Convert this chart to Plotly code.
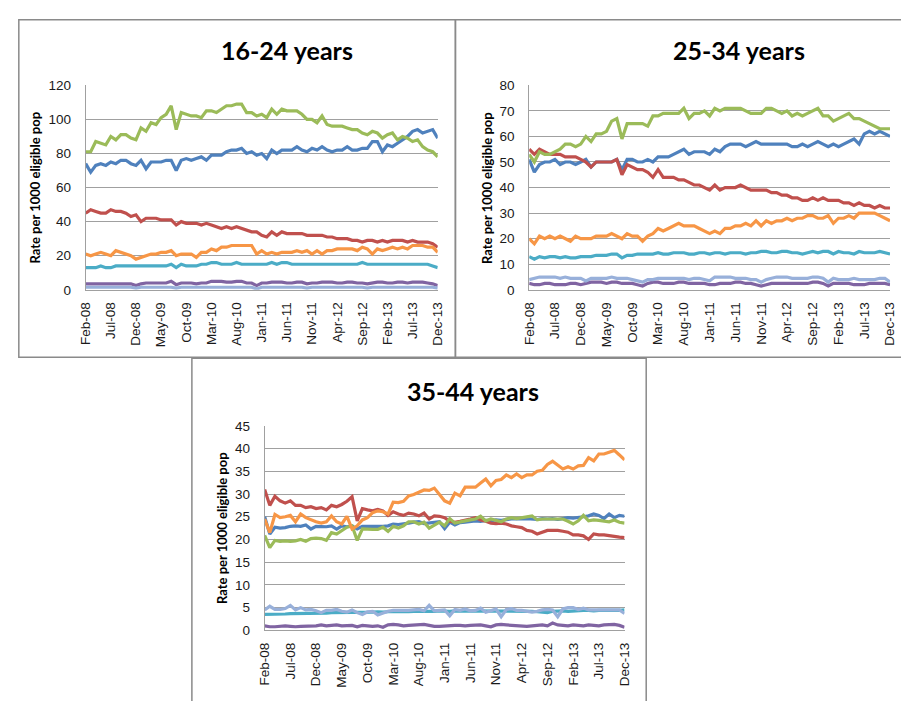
import plotly.graph_objects as go

W, H = 901, 701

months = ["Feb-08", "Mar-08", "Apr-08", "May-08", "Jun-08", "Jul-08", "Aug-08", "Sep-08", "Oct-08", "Nov-08",
          "Dec-08", "Jan-09", "Feb-09", "Mar-09", "Apr-09", "May-09", "Jun-09", "Jul-09", "Aug-09", "Sep-09",
          "Oct-09", "Nov-09", "Dec-09", "Jan-10", "Feb-10", "Mar-10", "Apr-10", "May-10", "Jun-10", "Jul-10",
          "Aug-10", "Sep-10", "Oct-10", "Nov-10", "Dec-10", "Jan-11", "Feb-11", "Mar-11", "Apr-11", "May-11",
          "Jun-11", "Jul-11", "Aug-11", "Sep-11", "Oct-11", "Nov-11", "Dec-11", "Jan-12", "Feb-12", "Mar-12",
          "Apr-12", "May-12", "Jun-12", "Jul-12", "Aug-12", "Sep-12", "Oct-12", "Nov-12", "Dec-12", "Jan-13",
          "Feb-13", "Mar-13", "Apr-13", "May-13", "Jun-13", "Jul-13", "Aug-13", "Sep-13", "Oct-13", "Nov-13",
          "Dec-13"]
tick_every = 5

# ---- 16-24 years ----
p1_blue = [74, 69, 73, 74, 73, 75, 74, 76, 76, 74,
           73, 76, 71, 75, 75, 75, 76, 76, 70, 76,
           77, 76, 77, 78, 76, 79, 79, 79, 81, 82,
           82, 83, 80, 81, 79, 80, 77, 82, 80, 82,
           82, 82, 84, 82, 81, 83, 82, 84, 82, 81,
           82, 82, 84, 82, 82, 83, 83, 87, 87, 81,
           85, 84, 86, 88, 90, 93, 94, 92, 93, 94,
           89]
p1_red = [45, 47, 46, 45, 45, 47, 46, 46, 45, 43,
          44, 40, 42, 42, 42, 41, 41, 41, 38, 40,
          39, 39, 39, 38, 39, 38, 37, 36, 37, 36,
          37, 36, 35, 34, 34, 32, 31, 34, 32, 34,
          33, 33, 33, 33, 32, 32, 32, 32, 31, 31,
          30, 30, 30, 29, 29, 28, 29, 29, 28, 29,
          28, 29, 29, 29, 28, 29, 28, 28, 28, 27,
          25]
p1_green = [81, 81, 87, 86, 85, 90, 88, 91, 91, 89,
            88, 95, 93, 98, 97, 101, 103, 108, 94, 104,
            103, 102, 102, 101, 105, 105, 104, 106, 108, 108,
            109, 109, 104, 104, 102, 103, 101, 106, 103, 106,
            105, 105, 105, 103, 100, 100, 98, 102, 97, 96,
            96, 96, 95, 94, 94, 92, 91, 93, 92, 89,
            91, 92, 88, 90, 89, 87, 88, 84, 82, 81,
            78]
p1_purple = [3.5, 3.5, 3.5, 3.5, 3.5, 3.5, 3.5, 3.5, 3.5, 3.5,
             2.5, 3.5, 4, 4, 4, 4, 4, 5, 3, 4,
             4, 4, 3.5, 4, 4, 5, 5, 5, 4.5, 4.5,
             5, 5, 4, 4, 2.5, 4, 4, 4.5, 4.5, 4.5,
             4, 4, 4.5, 4.5, 3.5, 4, 4, 4.5, 4.5, 4.5,
             4, 4, 4.5, 4.5, 4, 4, 3.5, 4, 4.5, 4.5,
             4, 4, 4.5, 4.5, 4, 4.5, 4.5, 4.5, 4, 3.5,
             2.5]
p1_teal = [13, 13, 13, 14, 13, 13, 14, 14, 14, 14,
           14, 14, 14, 14, 14, 14, 14, 15, 13, 15,
           14, 14, 14, 15, 15, 16, 16, 15, 15, 15,
           16, 15, 15, 15, 15, 15, 15, 16, 15, 16,
           16, 15, 15, 15, 15, 15, 15, 15, 15, 15,
           15, 15, 15, 15, 15, 16, 15, 15, 15, 15,
           15, 15, 15, 15, 15, 15, 15, 15, 15, 14,
           13]
p1_orange = [21, 20, 21, 22, 21, 20, 23, 22, 21, 20,
             18, 19, 20, 21, 21, 22, 22, 23, 20, 21,
             21, 21, 19, 22, 22, 24, 23, 25, 25, 26,
             26, 26, 26, 26, 21, 23, 21, 22, 21, 22,
             22, 22, 23, 22, 23, 21, 23, 21, 23, 23,
             24, 24, 24, 24, 23, 25, 24, 21, 24, 23,
             24, 25, 24, 25, 24, 26, 26, 26, 25, 25,
             22]
p1_light = [1.5, 1.5, 1.5, 1.5, 1.5, 1.5, 1.5, 1.5, 1.5, 1.5,
            1, 1.5, 1.5, 1.5, 1.5, 1.5, 1.5, 1.5, 1, 1.5,
            1.5, 1.5, 1.5, 1.5, 1.5, 1.5, 1.5, 1.5, 1.5, 1.5,
            1.5, 1.5, 1.5, 1.5, 0.5, 1.5, 1.5, 1.5, 1.5, 1.5,
            1.5, 1.5, 1.5, 1.5, 1, 1.5, 1.5, 1.5, 1.5, 1.5,
            1.5, 1.5, 1.5, 1.5, 1.5, 1.5, 1, 1.5, 1.5, 1.5,
            1.5, 1.5, 1.5, 1.5, 1.5, 1.5, 1.5, 1.5, 1.5, 1.5,
            1]

# ---- 25-34 years ----
p2_blue = [51, 46, 49, 50, 50, 51, 49, 50, 50, 49,
           50, 51, 48, 50, 50, 50, 50, 51, 47, 51,
           51, 50, 50, 51, 50, 52, 52, 52, 53, 54,
           55, 53, 54, 54, 54, 53, 55, 54, 56, 57,
           57, 57, 56, 57, 58, 57, 57, 57, 57, 57,
           57, 56, 56, 57, 56, 57, 58, 57, 56, 57,
           56, 57, 58, 59, 57, 61, 62, 61, 62, 61,
           60]
p2_red = [55, 53, 55, 54, 53, 53, 53, 52, 52, 52,
          51, 50, 48, 50, 50, 50, 50, 51, 45, 49,
          48, 47, 47, 46, 44, 47, 44, 44, 44, 43,
          43, 42, 41, 41, 40, 39, 41, 39, 40, 40,
          40, 41, 40, 39, 39, 39, 39, 38, 38, 37,
          37, 36, 36, 35, 35, 36, 35, 36, 35, 35,
          35, 34, 34, 33, 34, 33, 33, 32, 33, 32,
          32]
p2_green = [53, 50, 54, 53, 53, 54, 55, 57, 57, 56,
            57, 60, 58, 61, 61, 62, 66, 67, 59, 65,
            65, 65, 65, 64, 68, 68, 69, 69, 69, 69,
            71, 67, 69, 69, 70, 68, 71, 70, 71, 71,
            71, 71, 70, 69, 69, 69, 71, 71, 70, 69,
            70, 68, 69, 68, 69, 70, 71, 68, 68, 66,
            67, 68, 69, 67, 67, 66, 65, 64, 63, 63,
            63]
p2_purple = [2.5, 2, 2, 2.5, 2.5, 2, 2, 2, 2.5, 2.5,
             2, 2.5, 3, 3, 3, 2.5, 3, 3, 2.5, 2.5,
             2.5, 2, 1.5, 2.5, 3, 3, 2.5, 2.5, 2.5, 3,
             3, 2.5, 2.5, 2.5, 2.5, 2, 2, 2.5, 2.5, 2.5,
             3, 3, 2.5, 2.5, 2, 1.5, 2, 2.5, 2.5, 2.5,
             2.5, 2.5, 2.5, 2.5, 2.5, 3, 3, 2.5, 1.5, 2.5,
             2.5, 2.5, 2.5, 2, 2, 2, 2.5, 2.5, 2.5, 2.5,
             2]
p2_teal = [13, 12, 13, 12.5, 13, 13, 12.5, 13, 12.5, 12.5,
           13, 13, 13, 13.5, 13.5, 13.5, 14, 14, 12.5, 13.5,
           13.5, 14, 14, 14, 14, 14.5, 14, 14, 14.5, 14.5,
           14.5, 14, 14, 14.5, 14.5, 14, 14.5, 14.5, 14, 14.5,
           14.5, 14.5, 14, 14.5, 14.5, 15, 15, 14.5, 14.5, 15,
           15, 14.5, 14.5, 14, 14.5, 15, 14.5, 15, 15, 14,
           15, 14.5, 14.5, 14, 15, 14.5, 14.5, 14.5, 15, 14.5,
           14]
p2_orange = [20, 18, 21, 20, 21, 20, 21, 20, 19, 21,
             20, 20, 20, 21, 21, 21, 22, 21, 20, 22,
             21, 21, 19, 21, 22, 24, 23, 24, 25, 26,
             25, 25, 25, 24, 23, 22, 23, 22, 24, 24,
             25, 25, 26, 25, 27, 25, 27, 26, 27, 27,
             28, 27, 28, 28, 29, 29, 28, 28, 29, 26,
             28, 28, 29, 28, 30, 30, 30, 30, 29, 28,
             27]
p2_light = [4, 4.5, 5, 5, 5, 5, 4.5, 5, 4.5, 4.5,
            4.5, 3.5, 4.5, 4.5, 4.5, 4.5, 5, 4.5, 4.5, 4.5,
            4, 3.5, 3, 4, 4, 4.5, 4.5, 4.5, 4.5, 4.5,
            4.5, 4, 4.5, 4.5, 4, 3.5, 5, 5, 5, 5,
            4.5, 4.5, 4.5, 4, 4, 3, 4, 4.5, 5, 5,
            5, 4.5, 4.5, 4.5, 4.5, 5, 5, 4.5, 3, 4.5,
            4, 4, 4, 4.5, 4, 4, 4, 4, 4.5, 4.5,
            3]

# ---- 35-44 years ----
p3_blue = [25, 21.2, 22.7, 22.5, 22.6, 22.9, 23, 22.9, 23.2, 22.3,
           22.9, 22.8, 22.8, 23, 22.3, 23, 22.8, 23, 22.3, 22.9,
           22.9, 22.8, 22.9, 22.9, 23, 23.4, 23.3, 23.4, 23.6, 23.8,
           23.9, 23.5, 23.6, 23.8, 23.9, 22.4, 23.8, 23.2, 23.7, 23.8,
           24, 24.1, 24, 24.2, 24.1, 24.3, 24.2, 24.4, 24.5, 24.6,
           24.5, 24.6, 24.5, 24.4, 24.6, 24.5, 24.6, 24.4, 24.6, 24.8,
           24.7, 24.8, 25, 25.2, 25.6, 25.3, 24.6, 25.6, 24.8, 25.3,
           25.1]
p3_red = [31, 27.5, 29.5, 28.5, 28, 28.5, 27.5, 27.5, 27, 27.2,
          26.8, 27, 26.5, 27.5, 27.2, 27.7, 28.4, 29.4, 24.1, 26.8,
          26.5, 26.3, 26.6, 26.3, 25.3, 26.1, 25.6, 25.3, 25.8, 25.6,
          25.2, 25.8, 24.5, 25.2, 25.1, 24.8, 24, 23.8, 24, 24.2,
          24.5, 24.8, 24.3, 24, 23.6, 23.5, 23.6, 23.4, 23, 22.8,
          22.6, 22, 21.8, 21.2, 21.6, 22, 22, 22, 21.8, 21.6,
          21, 21, 20.8, 20, 21.2, 21, 21, 20.8, 20.6, 20.5,
          20.4]
p3_green = [20.9, 18.2, 19.8, 19.6, 19.7, 19.6, 19.7, 20, 19.6, 20.2,
            20.3, 20.2, 19.8, 21.5, 21.2, 22, 22.7, 23, 19.8, 22.3,
            22.2, 22.2, 22.2, 22.7, 21.8, 22.9, 22.5, 23, 23.9, 23.9,
            23.4, 23.8, 22.5, 23.2, 23.8, 23, 24.6, 23.6, 23.9, 24.1,
            24.3, 24.5, 25.1, 24.1, 24.5, 24.2, 23.9, 24.5, 24.8, 24.6,
            24.8, 25.1, 25.2, 24.3, 24.5, 24.5, 24.5, 24.5, 24.5, 24,
            23.4, 24.1, 25.3, 24.1, 24.3, 24.2, 24.1, 23.9, 24.3, 23.8,
            23.6]
p3_purple = [1.0, 0.8, 0.8, 0.9, 1.0, 0.9, 0.8, 0.9, 0.9, 0.9,
             1.0, 1.2, 1.0, 1.1, 1.2, 1.0, 1.0, 1.1, 0.8, 1.1,
             1.0, 0.9, 1.0, 0.7, 1.2, 1.3, 1.2, 1.0, 1.1, 1.2,
             1.2, 1.3, 1.1, 0.9, 0.9, 1.0, 1.0, 1.1, 1.1, 1.0,
             1.1, 1.1, 1.2, 1.0, 0.8, 1.2, 1.3, 1.2, 1.1, 1.1,
             1.0, 0.9, 1.0, 1.1, 1.2, 1.0, 1.6, 1.2, 1.1, 1.0,
             1.2, 1.1, 1.0, 1.2, 1.1, 1.0, 1.2, 1.3, 1.3, 1.1,
             0.7]
p3_teal = [3.5, 3.5, 3.6, 3.6, 3.6, 3.7, 3.7, 3.7, 3.7, 3.8,
           3.8, 3.8, 3.8, 3.9, 3.9, 3.9, 4.0, 4.0, 4.0, 4.0,
           4.0, 4.0, 4.1, 4.0, 4.1, 4.1, 4.0, 4.1, 4.1, 4.2,
           4.2, 4.1, 4.2, 4.2, 4.3, 4.2, 4.2, 4.3, 4.3, 4.2,
           4.2, 4.3, 4.2, 4.3, 4.3, 4.2, 4.3, 4.3, 4.2, 4.3,
           4.3, 4.2, 4.2, 4.1, 4.0, 3.9, 4.2, 4.3, 4.3, 4.2,
           4.3, 4.3, 4.4, 4.4, 4.3, 4.4, 4.4, 4.4, 4.3, 4.4,
           4.5]
p3_orange = [24.5, 21.5, 25.5, 24.8, 25, 25.3, 23.9, 25.6, 24.8, 24.3,
             23.9, 23.6, 23.9, 25.2, 23.9, 23.4, 25.1, 22.3, 23, 24.3,
             24.8, 25.9, 26.3, 26.1, 25.6, 28.2, 28.1, 28.4, 29.6, 29.9,
             30.4, 30.9, 30.8, 31.3, 29.9, 28.5, 28, 30.2, 29.6, 31.5,
             31.5, 31.5, 32.4, 33.3, 31.8, 33, 33.2, 34.2, 33.6, 34.4,
             33.6, 34.2, 34.2, 35, 35.2, 36.5, 37.2, 36.4, 35.5, 36,
             35.5, 36.2, 36.3, 38, 37.3, 38.8, 38.8, 39.2, 39.6, 38.6,
             37.5]
p3_light = [4.5, 5.3, 4.6, 4.6, 4.8, 5.5, 4.5, 5.0, 4.5, 4.6,
            4.3, 3.9, 4.4, 4.4, 4.6, 4.2, 4.0, 4.5, 3.9, 3.5,
            4.1, 4.2, 3.4, 3.8, 4.2, 4.4, 4.4, 4.3, 4.4, 4.5,
            4.6, 4.3, 5.5, 4.3, 4.4, 4.5, 3.2, 4.6, 4.4, 4.7,
            4.3, 4.4, 4.9, 4.0, 4.3, 4.7, 3.0, 4.6, 4.8, 4.4,
            4.4, 4.2, 4.0, 4.2, 4.5, 4.6, 4.5, 3.0, 4.7, 5.0,
            5.0, 4.6, 4.9, 4.5, 4.5, 4.5, 4.4, 4.4, 4.5, 4.5,
            3.7]

colors = ["#4F81BD", "#C0504D", "#9BBB59", "#8064A2", "#4BACC6", "#F79646", "#98B0DA"]

panels = [
    dict(title="16-24 years", series=[p1_blue, p1_red, p1_green, p1_purple, p1_teal, p1_orange, p1_light],
         ymax=120, dtick=20, plot=(79, 437, 80, 289), title_xy=(284, 44), ylab_xy=(28, 185),
         box=(11, 455, 13, 358)),
    dict(title="25-34 years", series=[p2_blue, p2_red, p2_green, p2_purple, p2_teal, p2_orange, p2_light],
         ymax=80, dtick=10, plot=(530, 897, 80, 289), title_xy=(743, 44), ylab_xy=(487, 185),
         box=(455, 910, 13, 358)),
    dict(title="35-44 years", series=[p3_blue, p3_red, p3_green, p3_purple, p3_teal, p3_orange, p3_light],
         ymax=45, dtick=5, plot=(261, 627, 428, 637), title_xy=(473, 392), ylab_xy=(217, 532),
         box=(187, 649, 359, 720)),
]


def px(x):
    return x / W


def py(y):
    return 1 - y / H


x_idx = list(range(len(months)))
tick_vals = x_idx[::tick_every]
tick_text = months[::tick_every]

fig = go.Figure()
layout = dict(
    width=W, height=H, margin=dict(l=0, r=0, t=0, b=0),
    paper_bgcolor="white", plot_bgcolor="white", showlegend=False,
    annotations=[], shapes=[],
)

grid = "#A0A0A0"
tick_font = dict(family="Liberation Sans, Arial, sans-serif", size=13.5, color="#1a1a1a")
head_font = "Lato, Open Sans, sans-serif"

for k, p in enumerate(panels, start=1):
    sfx = "" if k == 1 else str(k)
    x0, x1, y0, y1 = p["plot"]
    for s, c in zip(p["series"], colors):
        assert len(s) == len(months)
        fig.add_trace(go.Scatter(
            x=x_idx, y=s, mode="lines", line=dict(color=c, width=3.2),
            xaxis="x" + sfx, yaxis="y" + sfx, hoverinfo="skip"))
    layout["xaxis" + sfx] = dict(
        domain=[px(x0), px(x1)], anchor="y" + sfx, range=[0, len(months) - 1],
        tickmode="array", tickvals=tick_vals, ticktext=tick_text, tickangle=-90,
        showgrid=False, zeroline=False, showline=True, linecolor=grid, linewidth=1,
        ticks="", ticklabelstandoff=6, tickfont=tick_font, fixedrange=True)
    layout["yaxis" + sfx] = dict(
        domain=[py(y1), py(y0)], anchor="x" + sfx, range=[0, p["ymax"]],
        tickmode="linear", tick0=0, dtick=p["dtick"],
        showgrid=True, gridcolor=grid, gridwidth=1, zeroline=False,
        showline=True, linecolor=grid, linewidth=1,
        ticks="", ticklabelstandoff=11, tickfont=tick_font, fixedrange=True)
    tx, ty = p["title_xy"]
    layout["annotations"].append(dict(
        text="<b>" + p["title"] + "</b>", x=px(tx), y=py(ty), xref="paper", yref="paper",
        xanchor="center", yanchor="middle", showarrow=False,
        font=dict(family=head_font, size=25, color="black")))
    lx, ly = p["ylab_xy"]
    layout["annotations"].append(dict(
        text="<b>Rate per 1000 eligible pop</b>", x=px(lx), y=py(ly), xref="paper", yref="paper",
        xanchor="center", yanchor="middle", showarrow=False, textangle=-90,
        font=dict(family=head_font, size=13, color="black")))
    bx0, bx1, by0, by1 = p["box"]
    layout["shapes"].append(dict(
        type="rect", xref="paper", yref="paper", x0=px(bx0), x1=px(bx1), y0=py(by1), y1=py(by0),
        line=dict(color="#8A8A8A", width=1.5), fillcolor="rgba(0,0,0,0)", layer="below"))

fig.update_layout(**layout)
fig.write_html("out.html")
